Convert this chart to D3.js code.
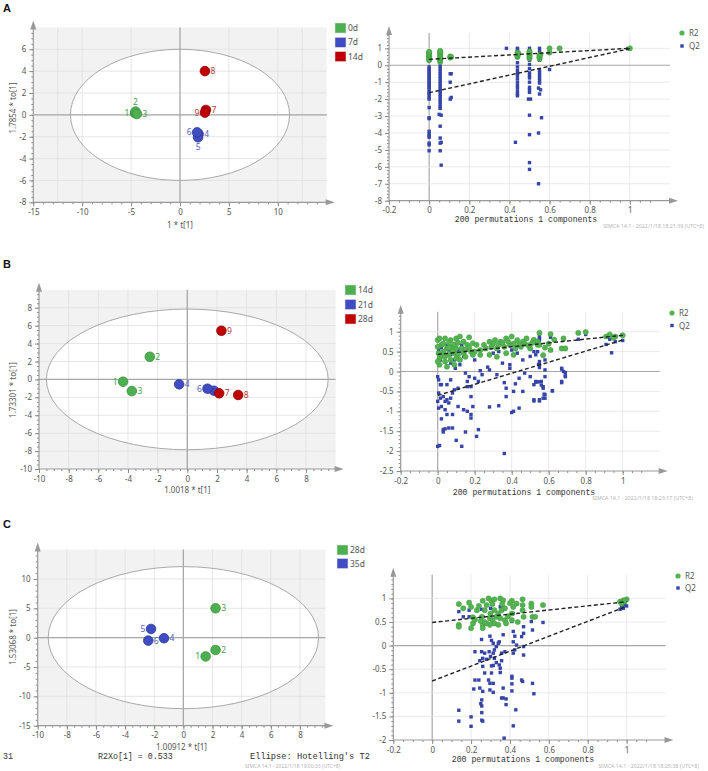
<!DOCTYPE html>
<html><head><meta charset="utf-8">
<script src="https://cdn.jsdelivr.net/npm/d3@7"></script>
<style>body{margin:0;background:#fff}svg{display:block}</style>
</head><body><svg id="c" width="708" height="771"></svg>
<script>
// ================= DATA =================
// Panel A score plot
const groupsA = ["0d", "7d", "14d"];
const idsA = [1, 2, 3, 4, 5, 6, 7, 8, 9];
const grpA = ["0d", "0d", "0d", "7d", "7d", "7d", "14d", "14d", "14d"];
const tA  = [-4.6, -4.55, -4.4, 1.9, 1.85, 1.75, 2.65, 2.55, 2.55];
const toA = [0.15, 0.3, 0.08, -1.75, -2.05, -1.6, 0.45, 4.0, 0.2];
const xTicksA = [-15, -10, -5, 0, 5, 10];
const yTicksA = [-8, -6, -4, -2, 0, 2, 4, 6];

// Panel B score plot
const groupsB = ["14d", "21d", "28d"];
const idsB = [1, 2, 3, 4, 5, 6, 7, 8, 9];
const grpB = ["14d", "14d", "14d", "21d", "21d", "21d", "28d", "28d", "28d"];
const tB  = [-4.33, -2.53, -3.74, -0.55, 1.79, 1.36, 2.15, 3.43, 2.3];
const toB = [-0.26, 2.53, -1.3, -0.55, -1.26, -1.04, -1.55, -1.74, 5.43];
const xTicksB = [-10, -8, -6, -4, -2, 0, 2, 4, 6, 8];
const yTicksB = [-10, -8, -6, -4, -2, 0, 2, 4, 6, 8];

// Panel C score plot
const groupsC = ["28d", "35d"];
const idsC = [1, 2, 3, 4, 5, 6];
const grpC = ["28d", "28d", "28d", "35d", "35d", "35d"];
const tC  = [1.53, 2.21, 2.21, -1.33, -2.22, -2.41];
const toC = [-3.2, -2.1, 5.0, -0.1, 1.48, -0.5];
const xTicksC = [-10, -8, -6, -4, -2, 0, 2, 4, 6, 8];
const yTicksC = [-15, -10, -5, 0, 5, 10];

// Hotelling T2 ellipse half-axes [t, to]
const ellipseA = [11.2, 6.0];
const ellipseB = [9.5, 7.85];
const ellipseC = [9.28, 12.1];

// Permutation tests: [x, y]
const r2A = [[0,0.3],[0,0.38],[0,0.45],[0,0.5],[0,0.55],[0,0.6],[0,0.65],[0,0.7],[0,0.75],[0,0.8],
 [0.055,0.2],[0.055,0.3],[0.055,0.38],[0.055,0.45],[0.055,0.52],[0.055,0.6],[0.055,0.68],[0.055,0.75],[0.055,0.82],[0.055,0.85],
 [0.105,0.45],[0.105,0.52],[0.11,0.5],
 [0.44,0.5],[0.44,0.55],[0.44,0.62],[0.445,0.7],[0.44,0.75],
 [0.5,0.4],[0.5,0.48],[0.5,0.55],[0.5,0.62],[0.5,0.7],[0.5,0.78],[0.5,0.82],
 [0.55,0.38],[0.55,0.45],[0.55,0.52],[0.55,0.6],[0.555,0.65],
 [0.6,0.75],[0.6,1.0],[0.65,1.0],[1,1.0]];
const q2A = [[0.385,1.0],[0.44,1.0],[0.44,0.95],[0.5,1.0],[0.55,1.0],[1,0.99],[0.99,0.98],
 [0,-0.1],[0,-0.2],[0,-0.3],[0,-0.4],[0,-0.5],[0,-0.6],[0,-0.7],[0,-0.8],[0,-0.9],[0,-1.0],[0,-1.1],[0,-1.2],[0,-1.3],[0,-1.4],[0,-1.55],[0,-1.65],[0,-1.75],[0,-1.9],[0,-2.0],[0,-2.5],[0,-3.1],[0,-3.15],[0,-3.9],[0,-4.05],[0,-4.15],[0,-4.25],[0,-4.6],[0,-4.7],[0,-5.05],
 [0.055,0.6],[0.055,0.35],[0.055,0.15],[0.055,-0.05],[0.055,-0.2],[0.055,-0.35],[0.055,-0.5],[0.055,-0.65],[0.055,-0.8],[0.055,-0.95],[0.055,-1.1],[0.055,-1.25],[0.055,-1.4],[0.055,-1.55],[0.055,-1.7],[0.055,-1.85],[0.055,-2.0],[0.055,-2.15],[0.055,-2.3],[0.055,-2.45],[0.055,-2.55],[0.05,-2.9],[0.06,-2.95],[0.055,-3.6],[0.055,-4.3],[0.06,-4.55],[0.055,-4.6],[0.055,-5.05],[0.06,-5.9],
 [0.105,-0.5],[0.11,-0.5],[0.105,-1.0],[0.11,-1.9],[0.105,-2.0],
 [0.44,0.8],[0.44,0.6],[0.44,0.45],[0.44,0.15],[0.44,-0.1],[0.44,-0.3],[0.44,-0.45],[0.44,-0.6],[0.44,-0.8],[0.44,-1.0],[0.44,-1.2],[0.44,-1.35],[0.44,-1.55],[0.44,-1.7],[0.44,-1.8],[0.43,-4.55],
 [0.5,0.8],[0.5,0.55],[0.5,0.3],[0.5,0.05],[0.5,-0.2],[0.5,-0.45],[0.5,-0.6],[0.5,-0.75],[0.5,-1.0],[0.5,-1.3],[0.5,-1.45],[0.5,-1.6],[0.495,-2.0],[0.505,-2.0],[0.5,-2.95],[0.5,-4.1],[0.5,-5.75],[0.5,-6.15],
 [0.55,0.8],[0.55,0.3],[0.55,-0.3],[0.55,-0.45],[0.55,-0.6],[0.55,-0.75],[0.55,-0.9],[0.55,-1.05],[0.545,-1.35],[0.555,-1.45],[0.55,-1.7],[0.56,-3.1],[0.545,-4.0],[0.545,-7.0],
 [0.6,-0.25]];
const r2LineA = [0.35, 1.0];
const q2LineA = [-1.62, 0.98];

const r2B = [[0,0.79],[0.01,0.83],[0.04,0.83],[0.07,0.79],[0.1,0.83],[0.12,0.88],[0.14,0.75],[0,0.62],[0.02,0.67],[0.05,0.58],[0.08,0.62],[0.1,0.58],[0.13,0.58],[0.16,0.67],[0.19,0.71],[0.21,0.67],[0.25,0.67],[0.28,0.75],[0.31,0.79],[0.34,0.75],[0.37,0.83],[0.4,0.88],[0.43,0.79],[0.46,0.75],[0.48,0.83],[0.52,0.79],
 [0.005,0.46],[0.03,0.5],[0.06,0.42],[0.09,0.46],[0.11,0.42],[0.14,0.46],[0.18,0.5],[0.2,0.5],[0.23,0.54],[0.26,0.58],[0.29,0.62],[0.32,0.58],[0.36,0.62],[0.39,0.67],[0.42,0.58],[0.45,0.62],[0.5,0.58],[0.54,0.67],
 [0.01,0.33],[0.04,0.25],[0.07,0.29],[0.1,0.33],[0.12,0.29],[0.15,0.37],[0.19,0.42],[0.23,0.42],[0.28,0.42],[0.32,0.37],[0.37,0.46],[0.41,0.42],[0.01,0.17],[0.05,0.12],[0.09,0.17],[0,0.25],[0.17,0.86],
 [0.55,0.97],[0.61,0.94],[0.76,0.97],[0.8,0.99],[0.68,0.83],[0.67,0.58],[0.69,0.58],[0.61,0.54],[0.57,0.41],[0.52,0.79],[0.54,0.75],[0.55,0.67],[0.58,0.6],[0.6,0.7],[0.63,0.8],
 [0.91,0.88],[0.93,0.93],[0.96,0.88],[1.0,0.91],[0.95,0.85],
 [0.3,0.7],[0.33,0.68],[0.35,0.72],[0.38,0.76],[0.41,0.7],[0.44,0.68],[0.47,0.7],[0.49,0.66],[0.51,0.72],[0.03,0.7],[0.06,0.72],[0.08,0.52],[0.02,0.4],[0.04,0.38],[0.06,0.6],[0.09,0.68],[0.11,0.72],[0.15,0.55],[0.17,0.6]];
const q2B = [[0,-1.88],[0.01,-1.86],[0.02,-1.19],[0.03,-1.46],[0.04,-1.44],[0.06,-1.42],[0.08,-1.42],[0.03,-1.52],[0.05,-1.08],[0.08,-1.08],[0.1,-1.73],[0.13,-1.88],[0.15,-1.52],[0.21,-1.63],[0.22,-1.46],[0.18,-1.17],[0.18,-1.08],[0.14,-0.96],[0.16,-1.0],[0.19,-0.88],[0.11,-0.88],[0.28,-0.89],[0.33,-0.86],[0.36,-2.06],[0.4,-1.03],[0.41,-1.0],[0.44,-0.92],
 [0.37,-0.63],[0.37,-0.42],[0.41,-0.5],[0.46,-0.5],[0.52,-0.71],[0.55,-0.71],[0.58,-0.58],[0.58,-0.67],[0.62,-0.48],[0.67,-0.28],[0.69,-0.11],[0.69,-0.03],[0.67,0.08],[0.57,-0.38],[0.56,-0.25],[0.53,-0.25],[0.52,-0.33],[0.5,-0.13],[0.47,-0.04],[0.44,-0.17],[0.42,-0.31],[0.36,-0.28],
 [0.39,0.08],[0.39,0.17],[0.35,0.21],[0.32,-0.08],[0.28,0.04],[0.24,-0.08],[0.27,0.11],[0.23,0.02],[0.22,-0.25],[0.2,-0.17],[0.16,-0.25],[0.16,-0.38],[0.18,-0.38],[0.18,-0.63],[0.15,-0.04],[0.17,-0.13],[0.12,0.17],[0.095,0.08],[0.07,0.21],[0.09,0.29],
 [0.005,0.17],[0.015,0.29],[0.005,0.54],[0.015,-0.33],[0.02,-0.33],[0.05,-0.33],[0.005,-0.54],[0.015,-0.67],[0.03,-0.63],[0.05,-0.71],[0.07,-0.67],[0.06,-0.79],[0.04,-0.75],[0.08,-0.54],[0,-0.75],[0.005,-0.92],[0.02,-0.88],[0.04,-0.96],[0,-0.13],[0.005,-0.21],[0.07,-0.21],[0.09,-0.46],[0.11,-0.42],
 [0.04,0.38],[0.06,0.54],[0.11,0.54],[0.07,0.42],[0.14,0.38],[0.2,0.29],[0.3,0.46],[0.33,0.5],[0.4,0.54],[0.43,0.46],[0.46,0.29],[0.5,0.38],[0.53,0.42],[0.55,0.79],[0.55,0.88],[0.55,0.25],[0.55,0.17],[0.58,0.29],
 [0.76,0.81],[0.8,0.93],[0.91,0.68],[0.94,0.47],[0.93,0.81],[1.0,0.78],[0.96,0.75],[0.55,0.83],[0.61,0.86],[0.54,0.5],[0.52,0.5],[0.545,0.18],[0.55,0.1],[0.58,0.04],[0.58,-0.13],[0.67,0.06],[0.68,0.0],[0.69,-0.13],[0.67,-0.25],[0.62,-0.49],
 [0.53,-0.27],[0.545,-0.26],[0.56,-0.34],[0.57,-0.42],[0.575,-0.57],[0.57,-0.67],[0.55,-0.74],[0.52,-0.74],[0.02,0.6],[0.05,0.65],[0.1,0.6],[0.13,0.66],[0.09,0.52]];
const r2LineB = [0.43, 0.91];
const q2LineB = [-0.6, 0.79];

const r2C = [[0.137,0.88],[0.137,0.44],[0.137,0.4],[0.16,0.79],[0.19,0.91],[0.2,0.82],[0.2,0.37],[0.21,0.47],[0.21,0.6],[0.24,0.84],[0.26,0.95],[0.26,0.44],[0.26,0.37],[0.255,0.61],[0.27,0.75],[0.28,0.86],
 [0.29,1.0],[0.305,0.95],[0.32,0.98],[0.297,0.58],[0.31,0.54],[0.33,0.61],[0.297,0.44],[0.32,0.47],[0.34,0.44],[0.35,1.0],[0.365,0.96],[0.357,0.75],[0.374,0.79],[0.374,0.54],[0.38,0.47],[0.35,0.58],
 [0.41,0.95],[0.417,0.82],[0.41,0.68],[0.41,0.54],[0.434,0.89],[0.465,0.98],[0.465,0.86],[0.465,0.75],[0.47,0.61],[0.51,0.89],[0.51,0.82],[0.516,0.61],[0.53,0.61],[0.57,0.86],[0.28,0.47],[0.23,0.75],[0.32,0.75],
 [0.25,0.52],[0.27,0.5],[0.3,0.68],[0.34,0.68],[0.39,0.62],[0.44,0.5],[0.22,0.55],[0.36,0.88],[0.4,0.9],[0.31,0.88],
 [0.966,0.93],[0.983,0.96],[1.0,0.98],[0.974,0.89],[0.99,0.94]];
const q2C = [[0.137,0.72],[0.19,0.75],[0.16,0.61],[0.19,0.61],[0.254,0.77],[0.26,0.61],[0.3,0.79],[0.32,0.75],[0.35,0.82],[0.357,0.86],[0.374,0.79],[0.417,0.68],[0.41,0.51],[0.465,0.75],[0.51,0.51],[0.57,0.49],
 [0.516,0.33],[0.47,0.4],[0.47,0.26],[0.46,0.19],[0.417,0.3],[0.425,0.2],[0.365,0.23],[0.297,0.2],[0.305,0.11],[0.254,0.13],[0.314,0.05],[0.33,-0.02],[0.32,-0.09],[0.34,0.05],[0.345,0.08],[0.357,-0.16],[0.374,-0.13],
 [0.417,0.08],[0.434,0.01],[0.47,-0.02],[0.47,-0.2],[0.417,-0.16],[0.425,-0.09],[0.22,-0.13],[0.254,-0.13],[0.26,-0.27],[0.245,-0.32],[0.27,-0.16],[0.28,-0.29],[0.293,-0.13],[0.3,-0.23],[0.314,-0.16],[0.32,-0.27],
 [0.33,-0.36],[0.357,-0.32],[0.345,-0.41],[0.35,-0.48],[0.305,-0.43],[0.314,-0.42],[0.26,-0.44],[0.27,-0.58],[0.305,-0.58],[0.35,-0.57],[0.29,-0.73],[0.297,-0.8],[0.314,-0.8],[0.22,-0.73],[0.24,-0.73],[0.214,-0.92],
 [0.245,-0.9],[0.26,-0.97],[0.297,-0.94],[0.314,-0.99],[0.365,-0.9],[0.365,-1.11],[0.357,-1.11],[0.41,-0.65],[0.41,-0.69],[0.41,-0.81],[0.41,-0.96],[0.46,-0.73],[0.465,-0.76],[0.516,-0.8],[0.523,-1.02],
 [0.255,-1.15],[0.25,-1.23],[0.255,-1.28],[0.255,-1.42],[0.255,-1.58],[0.26,-1.6],[0.38,-1.13],[0.38,-1.25],[0.43,-1.36],[0.137,-1.37],[0.137,-1.6],[0.2,-1.51],[0.2,-1.71],[0.417,-1.7],[0.37,-1.96],
 [0.974,0.82],[0.983,0.79],[0.99,0.86],[0.966,0.77],[1.0,0.84],[0.98,0.8]];
const r2LineC = [0.49, 0.93];
const q2LineC = [-0.75, 0.83];

const permXTicks = [-0.2, 0, 0.2, 0.4, 0.6, 0.8, 1];
const permYTicksA = [-8, -7, -6, -5, -4, -3, -2, -1, 0, 1];
const permYTicksB = [-2.5, -2, -1.5, -1, -0.5, 0, 0.5, 1];
const permYTicksC = [-2, -1.5, -1, -0.5, 0, 0.5, 1];

// ================= STYLE / LAYOUT =================
const svg = d3.select("#c");
const FONT = "'Noto Sans', 'DejaVu Sans', sans-serif";
const MONO = "'Liberation Mono', 'DejaVu Sans Mono', monospace";
const GREEN = "#4caf50", BLUE = "#3f4cc2", RED = "#c00000";
const colorsA = { "0d": GREEN, "7d": BLUE, "14d": RED };
const colorsB = { "14d": GREEN, "21d": BLUE, "28d": RED };
const colorsC = { "28d": GREEN, "35d": BLUE };
const labelColor = { [GREEN]: "#45a348", [BLUE]: "#5660b8", [RED]: "#b33a3a" };
const strokeOf = { [GREEN]: "#3b8f3e", [BLUE]: "#2c3894", [RED]: "#8a0000" };

function arrowUp(g, x, y) {
  g.append("path").attr("d", `M${x},${y-7}L${x-3},${y+2}L${x+3},${y+2}Z`).attr("fill", "#999");
}
function arrowRight(g, x, y) {
  g.append("path").attr("d", `M${x+8},${y}L${x-1},${y-3}L${x-1},${y+3}Z`).attr("fill", "#999");
}

function styleAxis(sel) {
  sel.select(".domain").remove();
  sel.selectAll(".tick line").attr("stroke", "#8a8a8a");
  sel.selectAll(".tick text").attr("fill", "#555").attr("font-size", 8).attr("font-family", FONT);
}

function drawAxes(g, x, y, xTicks, yTicks, xMinor, yMinor) {
  const xd = x.domain(), yd = y.domain();
  const ax = g.append("g").attr("transform", `translate(0,${y(yd[0])})`)
    .call(d3.axisBottom(x).tickValues(xTicks).tickSize(4).tickPadding(3).tickFormat(d => String(d)));
  styleAxis(ax);
  const axm = g.append("g").attr("transform", `translate(0,${y(yd[0])})`)
    .call(d3.axisBottom(x).tickValues(xMinor).tickSize(2).tickFormat(""));
  styleAxis(axm);
  const ay = g.append("g").attr("transform", `translate(${x(xd[0])},0)`)
    .call(d3.axisLeft(y).tickValues(yTicks).tickSize(4).tickPadding(3).tickFormat(d => String(d)));
  styleAxis(ay);
  const aym = g.append("g").attr("transform", `translate(${x(xd[0])},0)`)
    .call(d3.axisLeft(y).tickValues(yMinor).tickSize(2).tickFormat(""));
  styleAxis(aym);
  g.append("line").attr("x1", x(xd[0])).attr("x2", x(xd[1])).attr("y1", y(yd[0])).attr("y2", y(yd[0]))
    .attr("stroke", "#999").attr("stroke-width", 1.2);
  g.append("line").attr("x1", x(xd[0])).attr("x2", x(xd[0])).attr("y1", y(yd[0])).attr("y2", y(yd[1]))
    .attr("stroke", "#999").attr("stroke-width", 1.2);
  arrowRight(g, x(xd[1]), y(yd[0]));
  arrowUp(g, x(xd[0]), y(yd[1]));
}

function scorePlot(o) {
  const g = svg.append("g");
  const x = d3.scaleLinear().domain(o.xDom).range([o.left, o.right]);
  const y = d3.scaleLinear().domain(o.yDom).range([o.bottom, o.top]);
  g.append("rect").attr("x", x(o.xDom[0])).attr("y", y(o.yDom[1]))
    .attr("width", x(o.xDom[1]) - x(o.xDom[0])).attr("height", y(o.yDom[0]) - y(o.yDom[1]))
    .attr("fill", "#f2f2f2");
  g.append("ellipse").attr("cx", x(0)).attr("cy", y(0))
    .attr("rx", x(o.ell[0]) - x(0)).attr("ry", y(0) - y(o.ell[1])).attr("fill", "#fff");
  o.xGrid.filter(v => v > o.xDom[0]).forEach(v => g.append("line")
    .attr("x1", x(v)).attr("x2", x(v)).attr("y1", y(o.yDom[0])).attr("y2", y(o.yDom[1]))
    .attr("stroke", "#e0e0e0").attr("stroke-width", 0.8));
  o.yTicks.filter(v => v > o.yDom[0]).forEach(v => g.append("line")
    .attr("y1", y(v)).attr("y2", y(v)).attr("x1", x(o.xDom[0])).attr("x2", x(o.xDom[1]))
    .attr("stroke", "#e0e0e0").attr("stroke-width", 0.8));
  g.append("line").attr("x1", x(0)).attr("x2", x(0)).attr("y1", y(o.yDom[0])).attr("y2", y(o.yDom[1]))
    .attr("stroke", "#a8a8a8").attr("stroke-width", 1.3);
  g.append("line").attr("y1", y(0)).attr("y2", y(0)).attr("x1", x(o.xDom[0])).attr("x2", x(o.xDom[1]))
    .attr("stroke", "#a8a8a8").attr("stroke-width", 1.3);
  g.append("ellipse").attr("cx", x(0)).attr("cy", y(0))
    .attr("rx", x(o.ell[0]) - x(0)).attr("ry", y(0) - y(o.ell[1]))
    .attr("fill", "none").attr("stroke", "#a9a9a9").attr("stroke-width", 1);
  drawAxes(g, x, y, o.xTicks, o.yTicks, o.xMinor, o.yMinor);
  const pts = o.ids.map((id, i) => ({ id, grp: o.grp[i], t: o.t[i], to: o.to[i] }));
  const col = d => o.colors[d.grp];
  g.selectAll(".pt").data(pts).enter().append("circle")
    .attr("cx", d => x(d.t)).attr("cy", d => y(d.to)).attr("r", 4.8)
    .attr("fill", col).attr("stroke", d => strokeOf[col(d)]).attr("stroke-width", 0.8);
  const off = { left: [-8, 3], right: [8, 3], top: [0, -7], bottom: [0, 13] };
  g.selectAll(".lb").data(pts.filter(d => o.side[d.id])).enter().append("text")
    .attr("x", d => x(d.t) + off[o.side[d.id]][0]).attr("y", d => y(d.to) + off[o.side[d.id]][1])
    .attr("text-anchor", "middle").attr("font-size", 8.5).attr("font-family", FONT)
    .attr("fill", d => labelColor[col(d)]).text(d => d.id);
  g.append("text").attr("x", (o.left + o.right) / 2).attr("y", o.xLabelY)
    .attr("text-anchor", "middle").attr("font-size", 8).attr("font-family", FONT).attr("fill", "#555").text(o.xLabel);
  g.append("text").attr("transform", `translate(${o.yLabelX},${o.yLabelCy}) rotate(-90)`)
    .attr("text-anchor", "middle").attr("font-size", 8).attr("font-family", FONT).attr("fill", "#555").text(o.yLabel);
  o.groups.forEach((gname, i) => {
    const yy = o.legY + i * o.legStep;
    g.append("rect").attr("x", o.legX).attr("y", yy).attr("width", 11).attr("height", 10)
      .attr("fill", o.colors[gname]).attr("stroke", "#ddd").attr("stroke-width", 0.6);
    g.append("text").attr("x", o.legX + 13).attr("y", yy + 8).attr("font-size", 8.5).attr("font-family", FONT)
      .attr("fill", "#555").text(gname);
  });
}

function permPlot(o) {
  const g = svg.append("g");
  const x = d3.scaleLinear().domain([-0.2, 1.2]).range([o.left, o.right]);
  const y = d3.scaleLinear().domain(o.yDom).range([o.bottom, o.top]);
  permXTicks.filter(v => v > -0.2).forEach(v => g.append("line")
    .attr("x1", x(v)).attr("x2", x(v)).attr("y1", y(o.yDom[0])).attr("y2", y(o.yDom[1]))
    .attr("stroke", v === 0 ? "#a8a8a8" : "#e4e4e4").attr("stroke-width", v === 0 ? 1.2 : 0.8));
  o.yTicks.filter(v => v > o.yDom[0]).forEach(v => g.append("line")
    .attr("y1", y(v)).attr("y2", y(v)).attr("x1", x(-0.2)).attr("x2", x(1.2))
    .attr("stroke", v === 0 ? "#a8a8a8" : "#e4e4e4").attr("stroke-width", v === 0 ? 1.2 : 0.8));
  drawAxes(g, x, y, permXTicks, o.yTicks, d3.range(-0.2, 1.15, 0.05), o.yMinor);
  g.selectAll(".q").data(o.q2).enter().append("rect")
    .attr("x", d => x(d[0]) - 1.7).attr("y", d => y(d[1]) - 1.7).attr("width", 3.4).attr("height", 3.4)
    .attr("fill", "#3545a8");
  g.selectAll(".r").data(o.r2).enter().append("circle")
    .attr("cx", d => x(d[0])).attr("cy", d => y(d[1])).attr("r", 2.6)
    .attr("fill", "#55b452").attr("stroke", "#3f9a3f").attr("stroke-width", 0.5);
  [o.r2Line, o.q2Line].forEach(l => g.append("line")
    .attr("x1", x(0)).attr("y1", y(l[0])).attr("x2", x(1)).attr("y2", y(l[1]))
    .attr("stroke", "#222").attr("stroke-width", 1.4).attr("stroke-dasharray", "4,2.5"));
  g.append("circle").attr("cx", o.legX).attr("cy", o.legY).attr("r", 2.6).attr("fill", "#55b452");
  g.append("text").attr("x", o.legX + 7).attr("y", o.legY + 3).attr("font-size", 8).attr("font-family", FONT).attr("fill", "#555").text("R2");
  g.append("rect").attr("x", o.legX - 1.7).attr("y", o.legY + o.legStep - 1.7).attr("width", 3.4).attr("height", 3.4).attr("fill", "#3545a8");
  g.append("text").attr("x", o.legX + 7).attr("y", o.legY + o.legStep + 3).attr("font-size", 8).attr("font-family", FONT).attr("fill", "#555").text("Q2");
  g.append("text").attr("x", o.titleX).attr("y", o.titleY).attr("text-anchor", "middle")
    .attr("font-size", 8.2).attr("font-family", MONO).attr("fill", "#333").text("200 permutations 1 components");
  g.append("text").attr("x", o.stampX).attr("y", o.stampY).attr("text-anchor", "end")
    .attr("font-size", 5.3).attr("font-family", FONT).attr("fill", "#b5b5b5").text(o.stamp);
}

// ---------- Panel A ----------
scorePlot({
  xDom: [-15, 15], yDom: [-8, 8], left: 33.3, right: 326.7, bottom: 202.3, top: 27.4,
  xTicks: xTicksA, yTicks: yTicksA, xGrid: [-12.5, -10, -5, 5, 10, 12.5],
  xMinor: d3.range(-15, 15, 1), yMinor: d3.range(-8, 7.6, 0.5),
  ell: ellipseA, ids: idsA, grp: grpA, t: tA, to: toA, groups: groupsA, colors: colorsA,
  side: { 1: "left", 2: "top", 3: "right", 4: "right", 5: "bottom", 6: "left", 7: "right", 8: "right", 9: "left" },
  xLabel: "1 * t[1]", xLabelY: 228, yLabel: "1.7854 * to[1]", yLabelX: 16, yLabelCy: 108,
  legX: 335, legY: 23, legStep: 14.3
});
permPlot({
  left: 389, right: 670, yDom: [-8, 1.9], bottom: 200.7, top: 33.1,
  yTicks: permYTicksA, yMinor: d3.range(-8, 1.9, 0.2),
  r2: r2A, q2: q2A, r2Line: r2LineA, q2Line: q2LineA,
  legX: 682, legY: 33, legStep: 13,
  titleX: 526, titleY: 222, stampX: 704, stampY: 228, stamp: "SIMCA 14.1 - 2022/1/18 18:21:39 (UTC+8)"
});

// ---------- Panel B ----------
scorePlot({
  xDom: [-10, 10], yDom: [-10, 10], left: 39, right: 335.6, bottom: 469, top: 289.8,
  xTicks: xTicksB, yTicks: yTicksB, xGrid: xTicksB,
  xMinor: d3.range(-10, 10, 0.5), yMinor: d3.range(-10, 9.9, 0.5),
  ell: ellipseB, ids: idsB, grp: grpB, t: tB, to: toB, groups: groupsB, colors: colorsB,
  side: { 1: "left", 2: "right", 3: "right", 4: "right", 6: "left", 7: "right", 8: "right", 9: "right" },
  xLabel: "1.0018 * t[1]", xLabelY: 493, yLabel: "1.73301 * to[1]", yLabelX: 16, yLabelCy: 390,
  legX: 345, legY: 285, legStep: 14.5
});
permPlot({
  left: 400.7, right: 659.7, yDom: [-2.5, 1.5], bottom: 471, top: 311.8,
  yTicks: permYTicksB, yMinor: d3.range(-2.5, 1.5, 0.1),
  r2: r2B, q2: q2B, r2Line: r2LineB, q2Line: q2LineB,
  legX: 672, legY: 313, legStep: 12.5,
  titleX: 524, titleY: 495, stampX: 693, stampY: 500, stamp: "SIMCA 14.1 - 2022/1/18 18:23:17 (UTC+8)"
});

// ---------- Panel C ----------
scorePlot({
  xDom: [-10, 9.75], yDom: [-15, 15], left: 37.7, right: 325.4, bottom: 725.7, top: 549.6,
  xTicks: xTicksC, yTicks: yTicksC, xGrid: xTicksC,
  xMinor: d3.range(-10, 9.75, 0.5), yMinor: d3.range(-15, 15, 1),
  ell: ellipseC, ids: idsC, grp: grpC, t: tC, to: toC, groups: groupsC, colors: colorsC,
  side: { 1: "left", 2: "right", 3: "right", 4: "right", 5: "left", 6: "right" },
  xLabel: "1.00912 * t[1]", xLabelY: 750, yLabel: "1.53068 * to[1]", yLabelX: 16, yLabelCy: 637,
  legX: 337, legY: 545, legStep: 13.5
});
permPlot({
  left: 393.3, right: 665.5, yDom: [-2, 1.5], bottom: 740, top: 574.8,
  yTicks: permYTicksC, yMinor: d3.range(-2, 1.5, 0.1),
  r2: r2C, q2: q2C, r2Line: r2LineC, q2Line: q2LineC,
  legX: 678, legY: 576, legStep: 12,
  titleX: 523, titleY: 762, stampX: 699, stampY: 768, stamp: "SIMCA 14.1 - 2022/1/18 18:25:38 (UTC+8)"
});

// bottom annotations of panel C
svg.append("text").attr("x", 3).attr("y", 759).attr("font-size", 8.3).attr("font-family", MONO).attr("fill", "#333").text("31");
svg.append("text").attr("x", 98).attr("y", 759).attr("font-size", 8.3).attr("font-family", MONO).attr("fill", "#333").text("R2Xo[1] = 0.533");
svg.append("text").attr("x", 250).attr("y", 759).attr("font-size", 8.7).attr("font-family", MONO).attr("fill", "#333").text("Ellipse: Hotelling's T2");
svg.append("text").attr("x", 245).attr("y", 768).attr("font-size", 5).attr("font-family", FONT).attr("fill", "#b5b5b5").text("SIMCA 14.1 - 2022/1/18 19:00:33 (UTC+8)");

// panel letters
[["A", 12], ["B", 268], ["C", 528]].forEach(([t, yy]) =>
  svg.append("text").attr("x", 3).attr("y", yy).attr("font-size", 11).attr("font-weight", "bold")
    .attr("font-family", "'Liberation Sans', Arial, sans-serif").attr("fill", "#111").text(t));
</script></body></html>
